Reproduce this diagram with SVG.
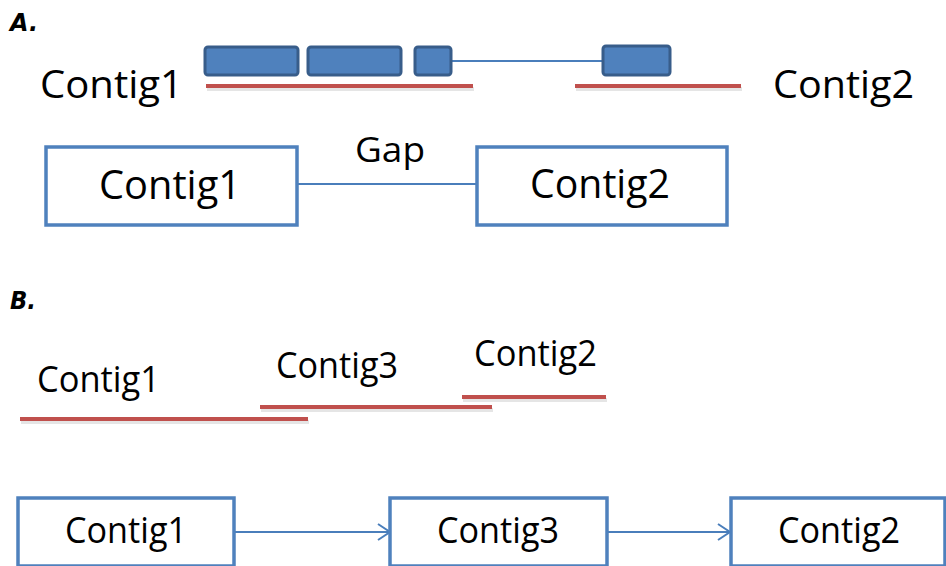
<svg xmlns="http://www.w3.org/2000/svg" width="946" height="566" viewBox="0 0 946 566">
<defs>
<style>
.lbl{font-family:"Open Sans","Liberation Sans",sans-serif;fill:#000}
.ttl{font-family:"DejaVu Sans","Liberation Sans",sans-serif;font-weight:bold;font-style:italic;font-size:24px;fill:#000}
.exon{fill:#4F81BD;stroke:#385D8A;stroke-width:3}
.read{stroke:#C0504D;stroke-width:4;fill:none}
.shadow{stroke:#000;stroke-opacity:0.1;stroke-width:4;fill:none}
.box{fill:#fff;stroke:#4F81BD;stroke-width:3.5}
.conn{stroke:#4A7EBB;stroke-width:2;fill:none}
</style>
<marker id="arr" markerWidth="16" markerHeight="20" refX="13" refY="9" orient="auto" markerUnits="userSpaceOnUse">
<path d="M1,1 L13,9 L1,17" fill="none" stroke="#4A7EBB" stroke-width="2"/>
</marker>
</defs>
<rect width="946" height="566" fill="#fff"/>

<text class="ttl" x="10" y="31" textLength="28" lengthAdjust="spacingAndGlyphs">A.</text>
<text class="ttl" x="10" y="309" textLength="26" lengthAdjust="spacingAndGlyphs">B.</text>

<g id="gene-model">
<line class="conn" x1="451" y1="61" x2="603" y2="61"/>
<rect class="exon" x="205" y="47" width="93" height="28" rx="3"/>
<rect class="exon" x="308" y="47" width="93" height="28" rx="3"/>
<rect class="exon" x="415" y="47" width="36" height="28" rx="3"/>
<rect class="exon" x="603" y="46" width="67" height="29" rx="3"/>
<line class="shadow" x1="207" y1="89" x2="474" y2="89"/>
<line class="read" x1="206" y1="86" x2="473" y2="86"/>
<line class="shadow" x1="576" y1="89" x2="742" y2="89"/>
<line class="read" x1="575" y1="86" x2="741" y2="86"/>
<text class="lbl" x="40" y="98" font-size="39" textLength="143" lengthAdjust="spacingAndGlyphs">Contig1</text>
<text class="lbl" x="773" y="98" font-size="39" textLength="141" lengthAdjust="spacingAndGlyphs">Contig2</text>
</g>

<g id="connectors">
<line class="conn" x1="297" y1="184" x2="477" y2="184"/>
<line class="conn" x1="234" y1="532" x2="390" y2="532" marker-end="url(#arr)"/>
<line class="conn" x1="607" y1="532" x2="730" y2="532" marker-end="url(#arr)"/>
</g>
<text class="lbl" x="355" y="162" font-size="35" textLength="70" lengthAdjust="spacingAndGlyphs">Gap</text>

<g id="a-contig1">
<rect class="box" x="46" y="147" width="251" height="78"/>
<text class="lbl" x="99" y="199" font-size="40" textLength="142" lengthAdjust="spacingAndGlyphs">Contig1</text>
</g>
<g id="a-contig2">
<rect class="box" x="477" y="147" width="250" height="78"/>
<text class="lbl" x="530" y="198" font-size="40" textLength="140" lengthAdjust="spacingAndGlyphs">Contig2</text>
</g>

<g id="b-reads">
<line class="shadow" x1="21" y1="422" x2="309" y2="422"/>
<line class="read" x1="20" y1="419" x2="308" y2="419"/>
<line class="shadow" x1="261" y1="410" x2="493" y2="410"/>
<line class="read" x1="260" y1="407" x2="492" y2="407"/>
<line class="shadow" x1="463" y1="400" x2="607" y2="400"/>
<line class="read" x1="462" y1="397" x2="606" y2="397"/>
<text class="lbl" x="37" y="392" font-size="36" textLength="123" lengthAdjust="spacingAndGlyphs">Contig1</text>
<text class="lbl" x="276" y="378" font-size="36" textLength="122" lengthAdjust="spacingAndGlyphs">Contig3</text>
<text class="lbl" x="474" y="366" font-size="36" textLength="123" lengthAdjust="spacingAndGlyphs">Contig2</text>
</g>

<g id="b-contig1">
<rect class="box" x="18" y="498" width="216" height="68"/>
<text class="lbl" x="65" y="543" font-size="37" textLength="122" lengthAdjust="spacingAndGlyphs">Contig1</text>
</g>
<g id="b-contig3">
<rect class="box" x="390" y="498" width="217" height="68"/>
<text class="lbl" x="437" y="543" font-size="37" textLength="122" lengthAdjust="spacingAndGlyphs">Contig3</text>
</g>
<g id="b-contig2">
<rect class="box" x="731" y="498" width="214" height="68"/>
<text class="lbl" x="778" y="543" font-size="37" textLength="122" lengthAdjust="spacingAndGlyphs">Contig2</text>
</g>
</svg>
